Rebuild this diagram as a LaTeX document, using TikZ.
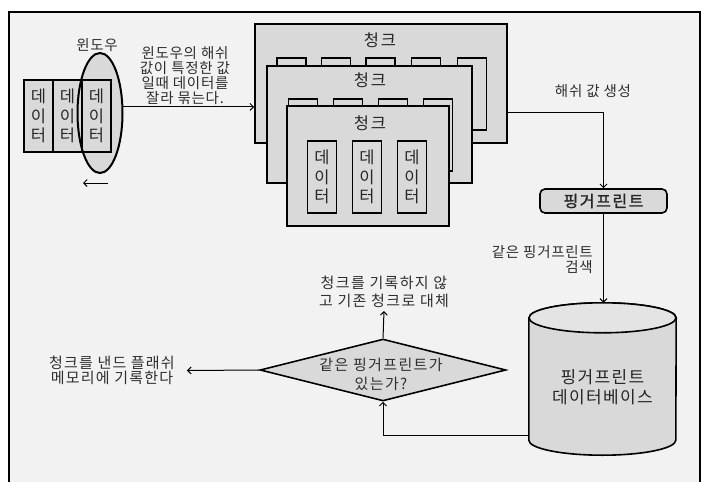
\documentclass[tikz,border=0pt]{standalone}
\usepackage{fontspec}
\setmainfont{Noto Sans CJK KR}
\usetikzlibrary{arrows.meta,shapes.geometric,calc}
\definecolor{bg}{HTML}{F2F2F2}
\definecolor{boxg}{HTML}{D9D9D9}
\definecolor{txtc}{HTML}{2E2E2E}
\newcommand\myfs[2]{\fontsize{#1}{#2}\selectfont}
\tikzset{
  chunkbox/.style={draw=black, fill=boxg, line width=1.6pt, inner sep=0pt, rectangle},
  databox/.style={draw=black, fill=boxg, line width=1.6pt, minimum width=29pt, minimum height=72pt,
    inner sep=0pt, align=center, font=\myfs{16.5}{19.5}, text=black!85},
  chunklbl/.style={inner sep=0pt, text=black!85, font=\myfs{16.5}{18}\addfontfeature{LetterSpace=10}},
  lbl/.style={text=txtc, font=\myfs{14.5}{15}\addfontfeature{LetterSpace=5}, align=center, inner sep=0pt},
  arr/.style={line width=1pt, -{Straight Barb[length=3.5pt,width=7pt]}},
}
\begin{document}
\begin{tikzpicture}[x=1pt,y=-1pt]
\useasboundingbox (0,0) rectangle (702,482);
\clip (0,0) rectangle (702,482);
\fill[white] (0,0) rectangle (702,482);
\draw[fill=bg, line width=2pt] (9,12) rectangle (700,500);

% window and data strip
\node[ellipse, fill=boxg, minimum width=45pt, minimum height=120pt, inner sep=0pt] (win) at (100,113) {};
\node[databox] (d1) at (38.5,116) {데\\이\\터};
\node[databox] (d2) at (67.5,116) {데\\이\\터};
\node[databox] (d3) at (96.5,116) {데\\이\\터};
\draw[line width=2pt] (win.center) ellipse [x radius=22.5pt, y radius=60pt];
\node[lbl] (wint) at (97,45) {윈도우};
\coordinate (wl1) at (108,183);
\coordinate (wl2) at (83,183);
\draw[arr] (wl1) -- (wl2);
\node[lbl, font=\myfs{14.5}{15}\addfontfeature{LetterSpace=5}] (wdesc) at (185,75.5) {윈도우의 해쉬\\값이 특정한 값\\일때 데이터를\\잘라 묶는다.};

% chunks
\node[chunkbox, minimum width=252pt, minimum height=119pt] (c1) at (381,83.5) {};
\node[chunklbl] (c1t) at (380,40) {청크};
\foreach \x [count=\i] in {291.5,336,380.5,426,472}
  \node[databox] (c1d\i) at (\x,94) {};
\node[chunkbox, minimum width=205pt, minimum height=117pt] (c2) at (369.5,124.5) {};
\node[chunklbl] (c2t) at (370,80) {청크};
\foreach \x [count=\i] in {303,348,393,438}
  \node[databox] (c2d\i) at (\x,135) {};
\node[chunkbox, minimum width=162pt, minimum height=120pt] (c3) at (368,166) {};
\node[chunklbl] (c3t) at (370,123) {청크};
\foreach \x [count=\i] in {322,367,412}
  \node[databox] (c3d\i) at (\x,177) {데\\이\\터};

\draw[arr] (win.15) -- (win.15 -| c1.west);

% fingerprint
\node[draw=black, fill=boxg, rounded corners=5pt, line width=1.6pt, minimum width=127pt,
  minimum height=24pt, inner sep=0pt, text=black!85,
  font=\myfs{16}{18}\addfontfeature{LetterSpace=10,FakeBold=1.5}] (fp) at (603.5,201) {핑거프린트};
\draw[arr] ([yshift=-28.5pt]c1.east) -| (fp.north);
\node[lbl] (hash) at (593,91) {해쉬 값 생성};

% database
\node[minimum width=147pt, minimum height=152pt, inner sep=0pt] (db) at (602.5,379) {};
\path[fill=boxg, draw=black, line width=1.6pt]
  ([yshift=-15pt]db.north west) -- ([yshift=15pt]db.south west)
  arc[start angle=180, end angle=360, x radius=73.5pt, y radius=15pt]
  -- ([yshift=-15pt]db.north east)
  arc[start angle=0, end angle=180, x radius=73.5pt, y radius=15pt] -- cycle;
\draw[line width=1.6pt, fill=boxg!70!white] ([yshift=-15pt]db.north) ellipse [x radius=73.5pt, y radius=15pt];
\node[inner sep=0pt, align=center, text=black!85, font=\myfs{17}{20.5}\addfontfeature{LetterSpace=8}] (dbt) at (602.5,387) {핑거프린트\\데이터베이스};
\draw[arr] (fp.south) -- (fp.south |- db.north);
\node[lbl, align=right, anchor=east] (srch) at (593,259.5) {같은 핑거프린트\\검색};

% decision
\node[diamond, draw=black, fill=boxg, line width=1.6pt, minimum width=246pt, minimum height=62pt, inner sep=0pt] (dec) at (383,370) {};
\node[lbl, font=\myfs{15}{19}\addfontfeature{LetterSpace=9}] (dect) at (381,374.5) {같은 핑거프린트가\\있는가?};
\node[lbl, font=\myfs{15}{18}\addfontfeature{LetterSpace=9}] (skip) at (384,292) {청크를 기록하지 않\\고 기존 청크로 대체};
\draw[arr] (dec.north) -- ([yshift=-3pt]skip.south);
\node[lbl, font=\myfs{15}{15}\addfontfeature{LetterSpace=8}] (write) at (112,370.5) {청크를 낸드 플래쉬\\메모리에 기록한다};
\draw[arr] (dec.west) -- ([xshift=12pt]write.east);
\draw[arr] ([yshift=-56pt]db.west) -| (dec.south);
\end{tikzpicture}
\end{document}
